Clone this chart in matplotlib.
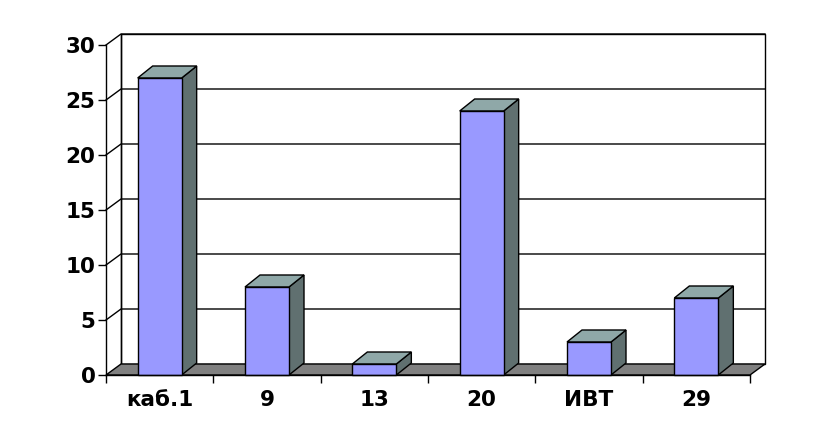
import matplotlib
matplotlib.use("Agg")
import matplotlib.pyplot as plt
from matplotlib.patches import Polygon
from matplotlib.ticker import FixedLocator, NullFormatter, FixedFormatter

categories = ["каб.1", "9", "13", "20", "ИВТ", "29"]
values = [27, 8, 1, 24, 3, 7]
y_ticks = [0, 5, 10, 15, 20, 25, 30]

W, H = 830, 447
fig = plt.figure(figsize=(W / 100, H / 100), dpi=100)
ax = fig.add_axes([106 / W, (H - 375) / H, 644 / W, 330 / H])
n = len(categories)
ax.set_xlim(0, n)
ax.set_ylim(0, 30)

# depth offsets (data units)
DX = 15 / (644 / n)
DY = 11 / 11.0
BDY = 12 / 11.0
bar_w = 44 / (644 / n)

front_col = "#9999FF"
top_col = "#8FA8A8"
side_col = "#607070"
floor_col = "#808080"

kw = dict(clip_on=False, linewidth=1.0)
# back wall
ax.add_patch(Polygon([(DX, DY), (n + DX, DY), (n + DX, 30 + DY), (DX, 30 + DY)],
                     closed=True, facecolor="white", edgecolor="black", zorder=1, **kw))
# gridlines
for v in y_ticks[1:]:
    ax.plot([0, DX, n + DX], [v, v + DY, v + DY], color="black", zorder=2, **kw)
# floor
ax.add_patch(Polygon([(0, 0), (n, 0), (n + DX, DY), (DX, DY)], closed=True,
                     facecolor=floor_col, edgecolor="black", zorder=3, **kw))
# left wall back edge
ax.plot([DX, DX], [DY, 30 + DY], color="black", zorder=2, **kw)

# bars
for i, v in enumerate(values):
    c = i + 0.5
    x0, x1 = c - bar_w / 2, c + bar_w / 2
    ax.add_patch(Polygon([(x1, 0), (x1 + DX, BDY), (x1 + DX, v + BDY), (x1, v)], closed=True,
                         facecolor=side_col, edgecolor="black", zorder=4, **kw))
    ax.add_patch(Polygon([(x0, v), (x1, v), (x1 + DX, v + BDY), (x0 + DX, v + BDY)], closed=True,
                         facecolor=top_col, edgecolor="black", zorder=4, **kw))
    ax.add_patch(Polygon([(x0, 0), (x1, 0), (x1, v), (x0, v)], closed=True,
                         facecolor=front_col, edgecolor="black", zorder=5, **kw))

for s in ["top", "right"]:
    ax.spines[s].set_visible(False)
for s in ["left", "bottom"]:
    ax.spines[s].set_linewidth(1.0)
    ax.spines[s].set_zorder(6)
ax.patch.set_visible(False)

ax.set_yticks(y_ticks)
ax.set_yticklabels([str(t) for t in y_ticks], fontsize=15.5, fontweight="bold")
ax.tick_params(axis="y", length=6, width=1, pad=1.5, direction="out")

ax.xaxis.set_major_locator(FixedLocator(list(range(n + 1))))
ax.xaxis.set_major_formatter(NullFormatter())
ax.xaxis.set_minor_locator(FixedLocator([i + 0.5 for i in range(n)]))
ax.xaxis.set_minor_formatter(FixedFormatter(categories))
ax.tick_params(axis="x", which="major", length=6, width=1, direction="out")
ax.tick_params(axis="x", which="minor", length=0, pad=11, labelsize=15.5)
for lab in ax.xaxis.get_minorticklabels():
    lab.set_fontweight("bold")

fig.savefig("out.png", dpi=100)
